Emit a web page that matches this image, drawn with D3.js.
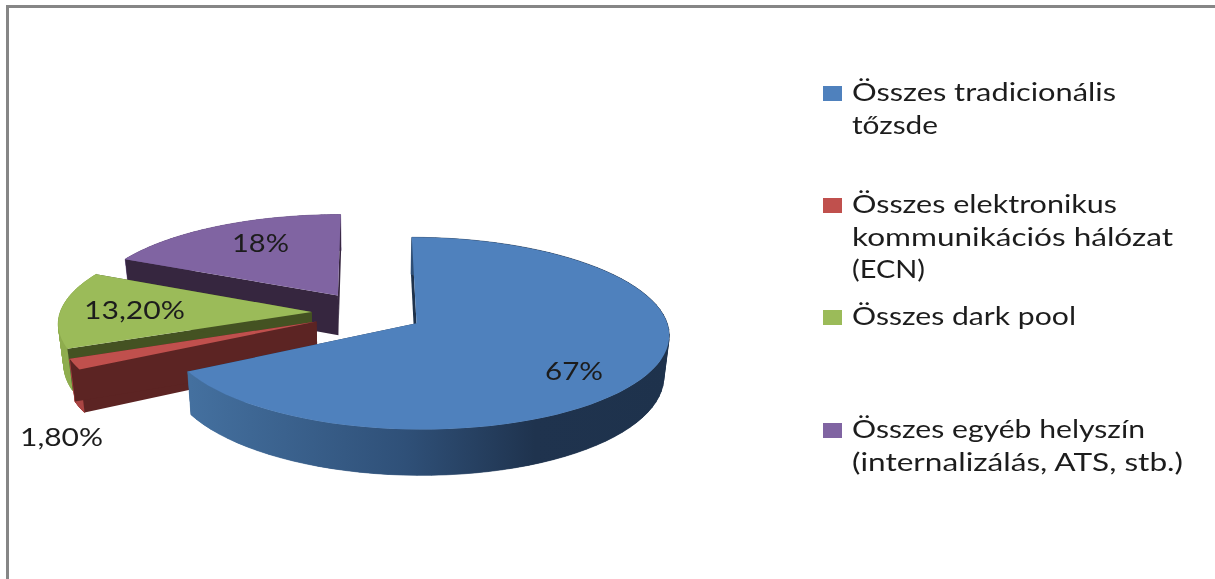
<!DOCTYPE html>
<html>
<head>
<meta charset="utf-8">
<script src="https://cdn.jsdelivr.net/npm/d3@7"></script>
<style>
	html, body { margin: 0; padding: 0; background: #fff; }
	svg { display: block; }
	text { font-family: Lato, 'Open Sans', sans-serif; fill: #1c1c1c; filter: url(#soft); }
</style>
</head>
<body>
<div id="chart"></div>
<script>
const categories = ['Összes tradicionális tőzsde', 'Összes elektronikus kommunikációs hálózat (ECN)', 'Összes dark pool', 'Összes egyéb helyszín (internalizálás, ATS, stb.)'];
const values = [67, 1.8, 13.2, 18];
const valueLabels = ['67%', '1,80%', '13,20%', '18%'];
const legendLines = [
	['Összes tradicionális', 'tőzsde'],
	['Összes elektronikus', 'kommunikációs hálózat', '(ECN)'],
	['Összes dark pool'],
	['Összes egyéb helyszín', '(internalizálás, ATS, stb.)'],
];

const faceColors = ['#4f81bd', '#c0504d', '#9bbb59', '#8064a2'];
const cutColors = ['#1e324c', '#5c2423', '#445222', '#36263f'];
const rimColors = ['url(#blueRim)', '#a94543', '#8fad4f', '#6a5387'];

// Layout
const width = 1215;
const height = 579;
const explode = [0.226, 0.22, 0.22, 0.22];
const spreadX = [0.985, 1, 1, 1];
const tilt = 0.104; // perspective strength
const depth = 40.5;
const converge = 0.018; // walls lean to the middle as they go down
const labelX = [545, 20, 84, 232];
const labelY = [380, 446, 319, 252];
const labelWidths = [58, 83, 101, 57];
const legendY = [101, 213, 325, 438];
const legendWidths = [[264, 86], [265, 321, 73], [224], [293, 331]];

const svg = d3.select('#chart').append('svg').attr('width', width).attr('height', height);

const defs = svg.append('defs');

// the scan is a little soft, text too
defs.append('filter').attr('id', 'soft').append('feGaussianBlur').attr('stdDeviation', 0.45);

// blue rim gets darker toward the right
const blueRim = defs.append('linearGradient').attr('id', 'blueRim').attr('gradientUnits', 'userSpaceOnUse')
	.attr('x1', 190).attr('x2', 669).attr('y1', 0).attr('y2', 0);
blueRim.append('stop').attr('offset', '0').attr('stop-color', '#44709f');
blueRim.append('stop').attr('offset', '0.45').attr('stop-color', '#2f5078');
blueRim.append('stop').attr('offset', '0.72').attr('stop-color', '#1f334e');
blueRim.append('stop').attr('offset', '1').attr('stop-color', '#1e324c');

// frame, open on the right and at the bottom
svg.append('path')
	.attr('d', `M7.5,${height}V6.5H${width}`)
	.attr('fill', 'none')
	.attr('stroke', '#868686')
	.attr('stroke-width', 3);

// Pie angles
const pie = d3.pie().value((d) => d).sort(null);
const slices = pie(values);

// Disc coordinates to screen, nearer points get bigger
const xScale = d3.scaleLinear().domain([0, 1]).range([367, 367 + 251.5]);
const yScale = d3.scaleLinear().domain([0, 1]).range([312.5, 312.5 + 92.8]);

const project = (X, Y, drop) => {
	const f = 1 / (1 - tilt * Y);
	const x = xScale(X * f);
	if (!drop) return [x, yScale(Y * f)];
	return [x - (x - xScale(0)) * converge, yScale(Y * f) + depth * f];
};

const line = d3.line();

const drawSlice = (s, i) => {
	const mid = (s.startAngle + s.endAngle) / 2;
	const ox = explode[i] * Math.sin(mid);
	const oy = -explode[i] * Math.cos(mid);
	const angles = d3.range(0, 1.0001, 1 / 80).map((t) => s.startAngle + t * (s.endAngle - s.startAngle));
	const rim = angles.map((a) => [ox + spreadX[i] * Math.sin(a), oy - Math.cos(a)]);
	const first = rim[0];
	const last = rim[rim.length - 1];

	const g = svg.append('g');

	const drawCuts = () => {
		[first, last].forEach((p) => {
			g.append('path')
				.attr('d', line([project(ox, oy), project(p[0], p[1]), project(p[0], p[1], true), project(ox, oy, true)]) + 'Z')
				.attr('fill', cutColors[i]);
		});
	};

	// strips give the true silhouette where the rim turns away, the whole shape on top hides their seams
	const drawRim = () => {
		g.selectAll('.strip')
			.data(d3.pairs(rim))
			.enter()
			.append('path')
			.attr('class', 'strip')
			.attr('d', ([a, b]) => line([project(a[0], a[1]), project(b[0], b[1]), project(b[0], b[1], true), project(a[0], a[1], true)]) + 'Z')
			.attr('fill', rimColors[i])
			.attr('stroke', rimColors[i])
			.attr('stroke-width', 0.6);
		const wall = rim.map((p) => project(p[0], p[1])).concat(rim.slice().reverse().map((p) => project(p[0], p[1], true)));
		g.append('path').attr('d', line(wall) + 'Z').attr('fill', rimColors[i]);
	};

	// on the big slice the rim is in front of the cuts, on the others behind
	if (i === 0) {
		drawCuts();
		drawRim();
	} else {
		drawRim();
		drawCuts();
	}

	// top face
	const face = [project(ox, oy)].concat(rim.map((p) => project(p[0], p[1])));
	g.append('path').attr('d', line(face) + 'Z').attr('fill', faceColors[i]);
};

// back to front
[3, 2, 1, 0].forEach((i) => drawSlice(slices[i], i));

// Value labels
svg.selectAll('.value')
	.data(valueLabels)
	.enter()
	.append('text')
	.attr('class', 'value')
	.attr('x', (d, i) => labelX[i])
	.attr('y', (d, i) => labelY[i])
	.attr('textLength', (d, i) => labelWidths[i])
	.attr('lengthAdjust', 'spacingAndGlyphs')
	.attr('font-size', 25)
	.text((d) => d);

// Legend
const legend = svg.selectAll('.legend')
	.data(categories)
	.enter()
	.append('g')
	.attr('class', 'legend')
	.attr('transform', (d, i) => `translate(823,${legendY[i]})`);

legend.append('rect')
	.attr('y', -15)
	.attr('width', 19)
	.attr('height', 15)
	.attr('fill', (d, i) => faceColors[i]);

legend.each(function (d, i) {
	d3.select(this).selectAll('text')
		.data(legendLines[i])
		.enter()
		.append('text')
		.attr('x', 29)
		.attr('y', (t, j) => j * 32.5)
		.attr('textLength', (t, j) => legendWidths[i][j])
		.attr('lengthAdjust', 'spacingAndGlyphs')
		.attr('font-size', 25)
		.text((t) => t);
});
</script>
</body>
</html>
